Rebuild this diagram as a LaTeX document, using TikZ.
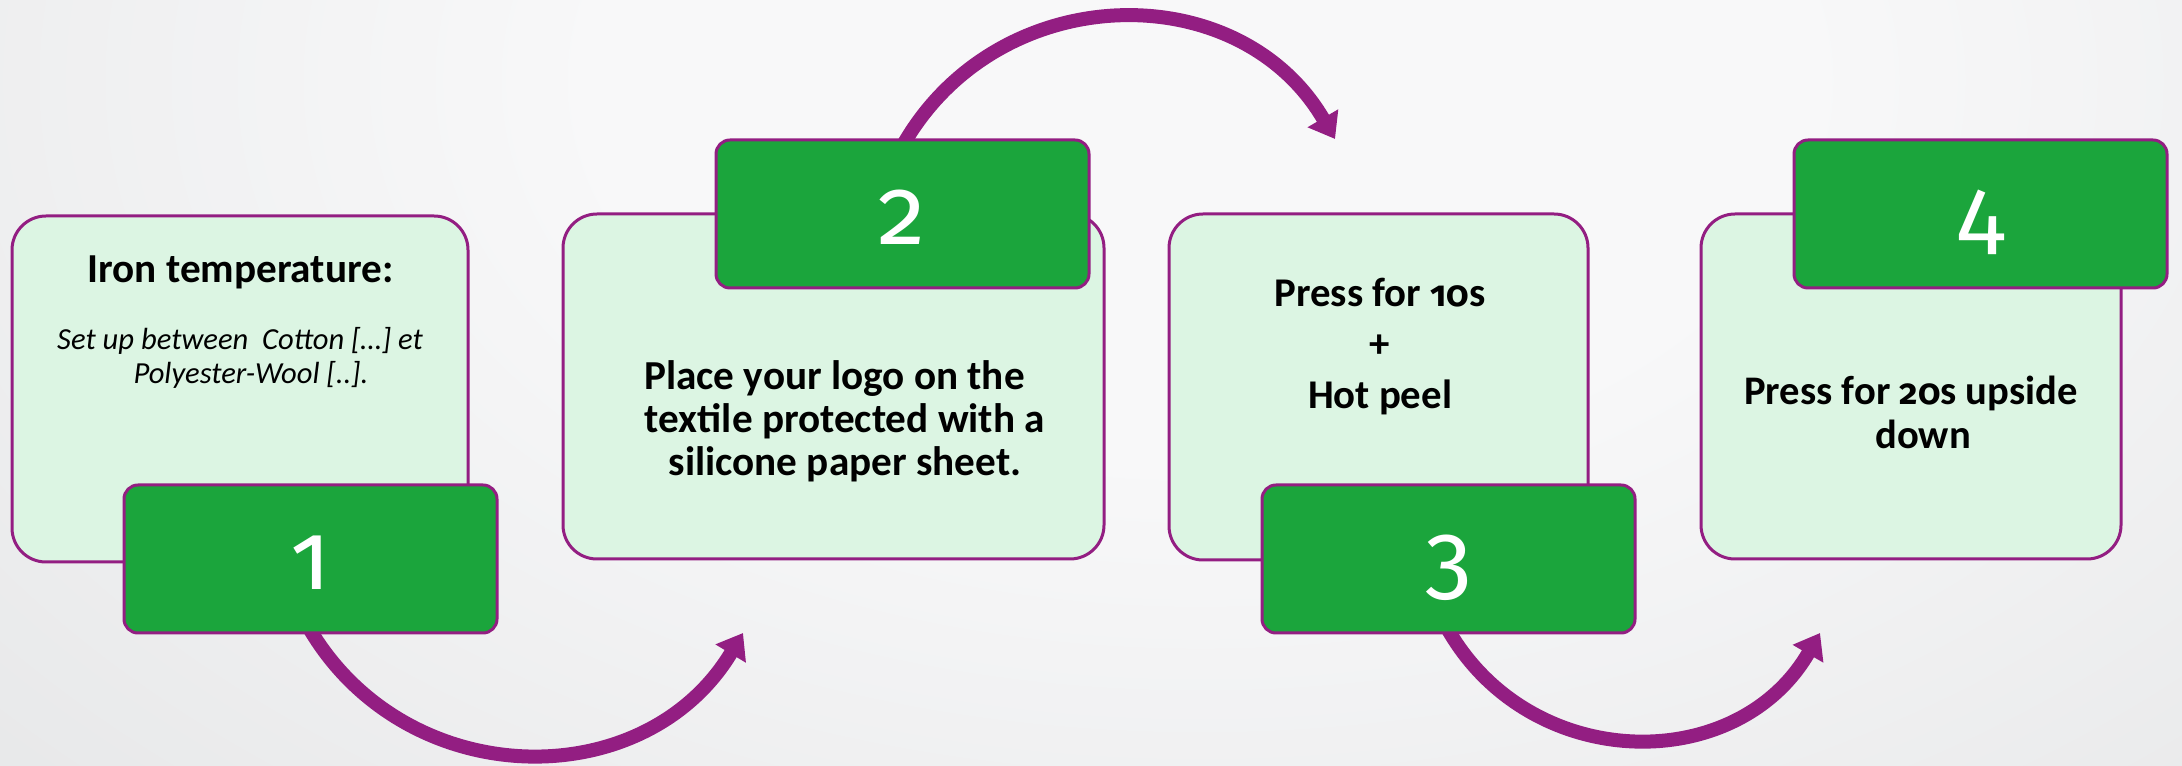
\documentclass[tikz,border=0pt]{standalone}
\usepackage{fontspec}
\setmainfont{Carlito}
\newfontfamily\bignum{Fira Sans}[Numbers=OldStyle]
\newfontfamily\smallnum{Fira Sans}[Numbers=OldStyle,Scale=0.88]
\usetikzlibrary{arrows.meta}
\definecolor{purp}{RGB}{147,30,130}
\definecolor{stepgreen}{RGB}{27,165,60}
\definecolor{lightfill}{RGB}{220,245,227}
\definecolor{bgin}{RGB}{248,248,249}
\definecolor{bgmid}{RGB}{227,228,229}
\definecolor{bgout}{RGB}{204,208,209}
\pgfdeclarelayer{bglayer}
\pgfdeclarelayer{arrlayer}
\pgfsetlayers{bglayer,arrlayer,main}
\pgfdeclareradialshading{bgshade}{\pgfpoint{0bp}{0bp}}{color(0bp)=(bgin); color(10bp)=(bgin); color(32bp)=(bgmid); color(50bp)=(bgout)}
\begin{document}
\begin{tikzpicture}[x=0.5pt,y=0.5pt,
  card/.style={draw=purp, line width=1.5pt, fill=lightfill, rounded corners=17pt, inner sep=0pt},
  numbox/.style={draw=purp, line width=1.5pt, fill=stepgreen, rounded corners=7pt, inner sep=0pt,
     minimum width=186.5pt, minimum height=74pt, text=white, font=\bignum\fontsize{47.5pt}{50pt}\selectfont,
     text height=31pt, text depth=0pt},
  boldtxt/.style={align=center, inner sep=0pt, font=\bfseries\fontsize{20.6pt}{22pt}\selectfont},
  itxt/.style={align=center, inner sep=0pt, font=\itshape\fontsize{15.3pt}{17pt}\selectfont},
  flowarrow/.style={draw=purp, line width=7pt, -{Triangle[length=12pt,width=17pt]}}]
\useasboundingbox (0,0) rectangle (2182,765);
\begin{pgfonlayer}{bglayer}
  \begin{scope}
    \clip (0,0) rectangle (2182,765);
    \shade[shading=bgshade] (-300,-265) rectangle (2700,1635);
  \end{scope}
\end{pgfonlayer}

% step 1
\node[card, minimum width=228pt, minimum height=173pt] (b1) at (240,376) {};
\node[numbox] (g1) at (310.5,206) {1};
\node[boldtxt, anchor=base] (t1a) at (240.5,482) {Iron temperature:};
\node[itxt] (t1b) at (251,407.5) {Set up between\ \ Cotton […] et\hspace*{11pt}\\Polyester-Wool [..].};

% step 2
\node[card, minimum width=270.5pt, minimum height=172.5pt] (b2) at (833.5,378.5) {};
\node[numbox] (g2) at (902.5,551) {2};
\node[boldtxt, font=\bfseries\fontsize{20.6pt}{21.5pt}\selectfont] (t2) at (845,343.5) {Place your logo on the\hspace*{10.5pt}\\textile protected with a\\silicone paper sheet.};

% step 3
\node[card, minimum width=209.5pt, minimum height=173pt] (b3) at (1378.5,378) {};
\node[numbox] (g3) at (1448.5,206) {3};
\node[boldtxt, font=\bfseries\fontsize{20.4pt}{25.5pt}\selectfont] (t3) at (1380,418) {Press for {\smallnum 10}s\\+\\Hot peel};

% step 4
\node[card, minimum width=210pt, minimum height=172.5pt] (b4) at (1911,378.5) {};
\node[numbox] (g4) at (1980.5,551) {4};
\node[boldtxt, font=\bfseries\fontsize{20.3pt}{22pt}\selectfont] (t4) at (1923,353) {Press for {\smallnum 20}s upside\hspace*{12pt}\\down};

% arrows
\coordinate (e1) at (743,132);
\coordinate (e2) at (1335,626);
\coordinate (e3) at (1820,132);
\begin{pgfonlayer}{arrlayer}
  \draw[flowarrow] ([yshift=2pt]g1.south) .. controls +(98,-163) and +(-98,-163) .. (e1);
  \draw[flowarrow] ([xshift=1pt,yshift=-2pt]g2.north) .. controls +(96,164) and +(-96,164) .. (e2);
  \draw[flowarrow] ([yshift=2pt]g3.south) .. controls +(83,-143) and +(-83,-143) .. (e3);
\end{pgfonlayer}
\end{tikzpicture}
\end{document}
